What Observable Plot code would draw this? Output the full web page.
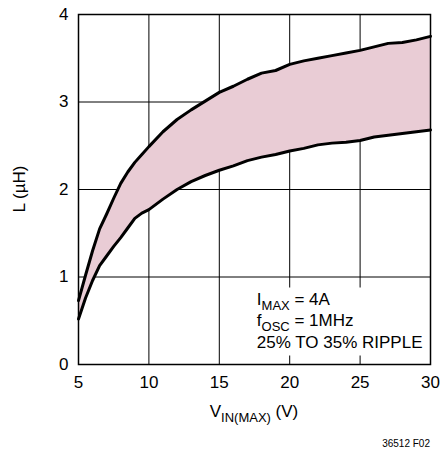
<!DOCTYPE html>
<html><head><meta charset="utf-8">
<script src="https://cdn.jsdelivr.net/npm/d3@7"></script>
<script src="https://cdn.jsdelivr.net/npm/@observablehq/plot@0.6"></script>
<style>
body{margin:0;background:#fff;}
</style></head><body><div id="chart"></div>
<script>
// V_IN(MAX) (V)
const vin    = [5, 5.5, 6, 6.5, 7, 7.5, 8, 8.5, 9, 9.5, 10, 11, 12, 13, 14, 15, 16, 17, 18, 19, 20, 21, 22, 23, 24, 25, 26, 27, 28, 29, 30];
// L (µH) at 25% ripple (upper) and 35% ripple (lower)
const lUpper = [0.73, 1.02, 1.30, 1.55, 1.72, 1.90, 2.07, 2.20, 2.31, 2.40, 2.49, 2.66, 2.80, 2.91, 3.01, 3.11, 3.18, 3.26, 3.33, 3.36, 3.43, 3.47, 3.50, 3.53, 3.56, 3.59, 3.63, 3.67, 3.68, 3.71, 3.75];
const lLower = [0.52, 0.76, 0.96, 1.13, 1.24, 1.35, 1.45, 1.56, 1.67, 1.73, 1.77, 1.89, 2.00, 2.09, 2.16, 2.22, 2.27, 2.33, 2.37, 2.40, 2.44, 2.47, 2.51, 2.53, 2.54, 2.56, 2.60, 2.62, 2.64, 2.66, 2.68];
const xTicks = [5, 10, 15, 20, 25, 30];
const yTicks = [0, 1, 2, 3, 4];
const yLabel = "L (µH)";
const xLabel = ["V", "IN(MAX)", " (V)"];
const notes = [["I", "MAX", " = 4A"], ["f", "OSC", " = 1MHz"], ["25% TO 35% RIPPLE", "", ""]];
const figNote = "36512 F02";

const data = vin.map((v, i) => ({v, lo: lLower[i], hi: lUpper[i]}));
const FONT = '"Liberation Sans",Arial,sans-serif';
const FS = 17;

const plot = Plot.plot({
  width: 440, height: 450,
  marginLeft: 78, marginRight: 10, marginTop: 14, marginBottom: 86,
  style: {fontFamily: FONT, fontSize: FS + "px", color: "#000", background: "#fff"},
  x: {domain: [5, 30]},
  y: {domain: [0, 4]},
  marks: [
    Plot.gridX(xTicks, {stroke: "#000", strokeOpacity: 1, strokeWidth: 1}),
    Plot.gridY(yTicks, {stroke: "#000", strokeOpacity: 1, strokeWidth: 1}),
    Plot.areaY(data, {x: "v", y1: "lo", y2: "hi", fill: "#E9CCD5"}),
    Plot.lineY(data, {x: "v", y: "hi", stroke: "#000", strokeWidth: 3, strokeLinejoin: "round"}),
    Plot.lineY(data, {x: "v", y: "lo", stroke: "#000", strokeWidth: 3, strokeLinejoin: "round"}),
    Plot.frame({stroke: "#000", strokeWidth: 1.5}),
    Plot.axisX(xTicks, {tickSize: 0, tickPadding: 11, label: null, fontSize: FS, tickFormat: d => String(d)}),
    Plot.axisY(yTicks, {tickSize: 0, tickPadding: 10, label: null, fontSize: FS, tickFormat: d => String(d)})
  ]
});
document.getElementById("chart").appendChild(plot);

const svg = d3.select(plot);
const sx = plot.scale("x"), sy = plot.scale("y");
const cx = (sx.apply(5) + sx.apply(30)) / 2;
const cy = (sy.apply(0) + sy.apply(4)) / 2;

// y-axis label
svg.append("text")
  .attr("transform", `translate(25,${cy}) rotate(-90)`)
  .attr("text-anchor", "middle")
  .attr("font-family", FONT).attr("font-size", FS)
  .text(yLabel);

// x-axis label with subscript
const xl = svg.append("text")
  .attr("x", cx).attr("y", sy.apply(0) + 53)
  .attr("text-anchor", "middle")
  .attr("font-family", FONT).attr("font-size", FS);
xl.append("tspan").text(xLabel[0]);
xl.append("tspan").attr("dy", 5).attr("font-size", 13).text(xLabel[1]);
xl.append("tspan").attr("dy", -5).text(xLabel[2]);

// annotation
const ax = sx.apply(17.7), ay = sy.apply(0.68);
const g = svg.append("g").attr("font-family", FONT).attr("font-size", FS).attr("text-anchor", "start");
notes.forEach((n, i) => {
  const t = g.append("text").attr("x", ax).attr("y", ay + i * 21.5).attr("text-anchor", "start");
  t.append("tspan").text(n[0]);
  if (n[1]) {
    t.append("tspan").attr("dy", 5).attr("font-size", 13).text(n[1]);
    t.append("tspan").attr("dy", -5).text(n[2]);
  }
});
const bb = g.node().getBBox();
svg.insert("rect", () => g.node())
  .attr("x", bb.x - 4).attr("y", bb.y - 2)
  .attr("width", bb.width + 6).attr("height", bb.height + 6)
  .attr("fill", "#fff");

// figure note
svg.append("text")
  .attr("x", sx.apply(30)).attr("y", 447)
  .attr("text-anchor", "end")
  .attr("font-family", FONT).attr("font-size", 10)
  .text(figNote);
</script></body></html>
